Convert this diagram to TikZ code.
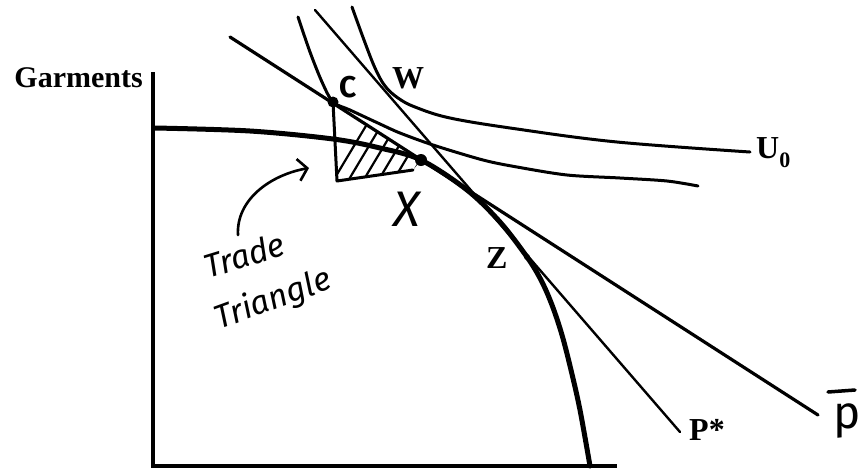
\documentclass[tikz,border=0pt]{standalone}
\usepackage{fontspec}
\setmainfont{Liberation Serif}
\newfontfamily\hand{Fira Sans}
\usetikzlibrary{arrows.meta}
\begin{document}
\begin{tikzpicture}[x=1pt,y=-1pt,
  axisline/.style={line width=3.4pt, line join=miter},
  ppfline/.style={line width=5pt, line cap=round},
  pbarline/.style={line width=3.2pt, line cap=round},
  pstarline/.style={line width=2.4pt, line cap=round},
  icurve/.style={line width=3pt, line cap=round, line join=round},
  lbl/.style={font=\fontsize{32}{34}\selectfont\bfseries, inner sep=0pt},
  handtxt/.style={font=\hand\itshape\fontsize{33}{35}\selectfont, inner sep=0pt},
  hatchline/.style={line width=2.2pt, line cap=round},
  ptdot/.style={circle, fill=black, inner sep=0pt, minimum size=#1}
]
\useasboundingbox (0,0) rectangle (859,472);

% named points
\coordinate (O) at (153,466);
\coordinate (ytop) at (153,72);
\coordinate (xend) at (617,466);
\coordinate (C) at (333,102);
\coordinate (X) at (421,160);
\coordinate (TL) at (337,181);
\coordinate (TR) at (413,170);
\coordinate (pb1) at (230,37);
\coordinate (pb2) at (818,415);
\coordinate (ps1) at (315,10);
\coordinate (ps2) at (680,432);

% axes
\draw[axisline] (ytop) -- (O) -- (xend);

% hatching of the trade triangle
\begin{scope}
  \clip (C) -- (TL) -- (TR) -- (X) -- cycle;
  \foreach \a in {330,345,...,420}
    \draw[hatchline] (\a,186) -- ++(58,-97);
\end{scope}

% production possibility frontier
\draw[ppfline] plot[smooth, tension=0.55] coordinates {(155,128) (250,131) (333,139) (380,148) (421,160) (467,190) (500,222) (527,257) (541,280) (552,305) (562,335) (571,370) (580,410) (590,466)};

% price lines
\draw[pbarline] (pb1) -- (pb2);
\draw[pstarline] (ps1) -- (ps2);

% indifference curves
\draw[icurve] plot[smooth, tension=0.6] coordinates {(352,7) (364,40) (375,68) (385,86) (398,98) (415,107) (450,118) (517,129) (617,142) (750,152)};
\draw[icurve] plot[smooth, tension=0.5] coordinates {(298,17) (310,52) (322,82) (333,102) (350,110) (380,124) (400,133) (433,145) (483,160) (517,167) (567,175) (620,178) (667,181) (698,186)};

% trade triangle sides
\draw[icurve] (C) -- (TL) -- (TR);

% points
\node[ptdot=11pt] (Cdot) at (C) {};
\node[ptdot=12pt] (Xdot) at (X) {};
\node[ptdot=6pt] (Zdot) at (527,257) {};

% labels
\node[lbl, font=\fontsize{30}{32}\selectfont\bfseries, anchor=base east] (garm) at (143,87) {Garments};
\node[lbl, anchor=base west] (wl) at (392,88) {W};
\node[lbl, anchor=base west] (zl) at (486,268) {Z};
\node[lbl, anchor=base west] (psl) at (689,440) {P*};
\node[lbl, anchor=base west] (ul) at (756,158) {U\raisebox{-9pt}{\fontsize{22}{22}\selectfont\bfseries 0}};
\node[font=\hand\bfseries\fontsize{30}{30}\selectfont, anchor=base west, inner sep=0pt] (cl) at (339,97) {C};
\node[font=\hand\itshape\fontsize{50}{50}\selectfont, inner sep=0pt] (xl) at (407,209) {X};

% hand-written annotation
\node[handtxt, rotate=17] (trade) at (244,255) {Trade};
\node[handtxt, rotate=20] (tri) at (273,300) {Triangle};
\coordinate (arrs) at (238,235);
\coordinate (arre) at (309,168);
\draw[line width=2.6pt, line cap=round, -{Straight Barb[length=9pt,width=22pt]}] (arrs) .. controls (236,200) and (270,175) .. (arre);

% P-bar label
\node[font=\hand\fontsize{46}{46}\selectfont, anchor=base west, inner sep=0pt] (pbl) at (833,428) {p};
\draw[line width=3.5pt, line cap=round] (828,392) -- (855,390);
\end{tikzpicture}
\end{document}
